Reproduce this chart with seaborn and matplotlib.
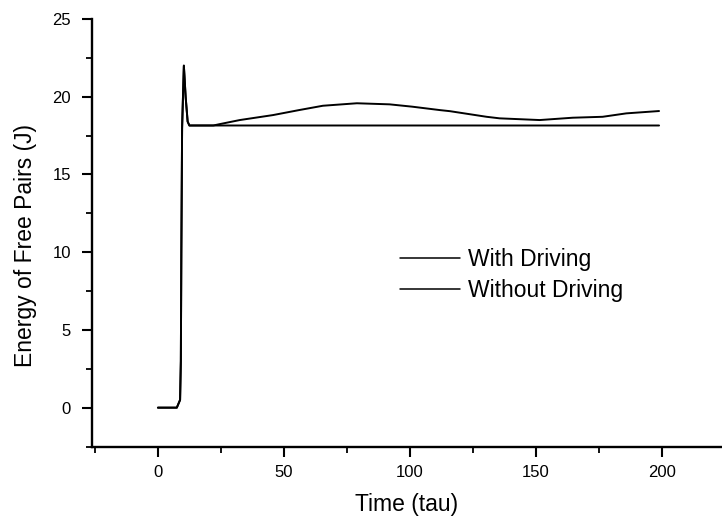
import matplotlib
matplotlib.use("Agg")
import matplotlib.pyplot as plt
from matplotlib.ticker import MultipleLocator
import numpy as np
import pandas as pd
import seaborn as sns

# Simulated energy of free pairs over time (tau)
time_without = [0, 7.5, 8.8, 9.1, 9.3, 9.6, 10.3, 11.0, 11.8, 12.5, 50, 100, 150, 199]
energy_without = [0, 0, 0.5, 3.0, 10.0, 18.0, 22.0, 20.0, 18.4, 18.15, 18.15, 18.15, 18.15, 18.15]

time_with = [0, 7.5, 8.8, 9.1, 9.3, 9.6, 10.3, 11.0, 11.8, 12.5, 22, 24.6, 32.5, 45.7, 56,
             65.5, 79, 92, 101, 112, 116, 130.5, 135.7, 151.6, 164.7, 176.6, 186, 199]
energy_with = [0, 0, 0.5, 3.0, 10.0, 18.0, 22.0, 20.0, 18.4, 18.15, 18.15, 18.24, 18.50, 18.82, 19.14,
               19.42, 19.58, 19.51, 19.36, 19.14, 19.07, 18.71, 18.61, 18.50, 18.65, 18.71, 18.93, 19.08]

series_names = ["With Driving", "Without Driving"]

df = pd.concat([
    pd.DataFrame({"Time": time_with, "Energy": energy_with, "Series": series_names[0]}),
    pd.DataFrame({"Time": time_without, "Energy": energy_without, "Series": series_names[1]}),
], ignore_index=True)

sns.set_style("ticks")
plt.rcParams["font.family"] = ["Liberation Sans", "DejaVu Sans"]
plt.rcParams["text.color"] = "black"
plt.rcParams["axes.labelcolor"] = "black"

fig = plt.figure(figsize=(7.22, 5.19), dpi=100)
ax = fig.add_axes([91.7 / 722, (519 - 447.3) / 519, (722 - 91.7) / 722, (447.3 - 19) / 519])

sns.lineplot(data=df, x="Time", y="Energy", hue="Series", hue_order=series_names,
             palette=["black", "black"], sort=False, estimator=None, linewidth=1.4, ax=ax)

ax.set_xlim(-26.3, 224)
ax.set_ylim(-2.55, 25)
ax.xaxis.set_major_locator(MultipleLocator(50))
ax.xaxis.set_minor_locator(MultipleLocator(25))
ax.yaxis.set_major_locator(MultipleLocator(5))
ax.yaxis.set_minor_locator(MultipleLocator(2.5))
ax.set_xticks([0, 50, 100, 150, 200])
ax.set_yticks([0, 5, 10, 15, 20, 25])

for side in ("top", "right"):
    ax.spines[side].set_visible(False)
for side in ("left", "bottom"):
    ax.spines[side].set_linewidth(1.7)
    ax.spines[side].set_color("black")

ax.tick_params(which="major", direction="out", length=7, width=1.5, labelsize=12,
               colors="black", labelcolor="black")
ax.tick_params(axis="y", which="major", pad=8)
ax.tick_params(axis="x", which="major", pad=6)
ax.tick_params(which="minor", direction="out", length=4, width=1.3, colors="black")

ax.set_xlabel("Time (tau)", fontsize=16.5, labelpad=9, color="black")
ax.set_ylabel("Energy of Free Pairs (J)", fontsize=16.5, labelpad=10, color="black")
ax.yaxis.set_label_coords(-0.087, 0.47)

leg = ax.legend(loc="center left", bbox_to_anchor=(0.489, 0.403), frameon=False,
                fontsize=16.5, handlelength=2.6, handletextpad=0.35, labelspacing=0.35,
                borderpad=0, borderaxespad=0)
for line in leg.get_lines():
    line.set_linewidth(1.1)
for text in leg.get_texts():
    text.set_color("black")

fig.savefig("out.png", dpi=100)
